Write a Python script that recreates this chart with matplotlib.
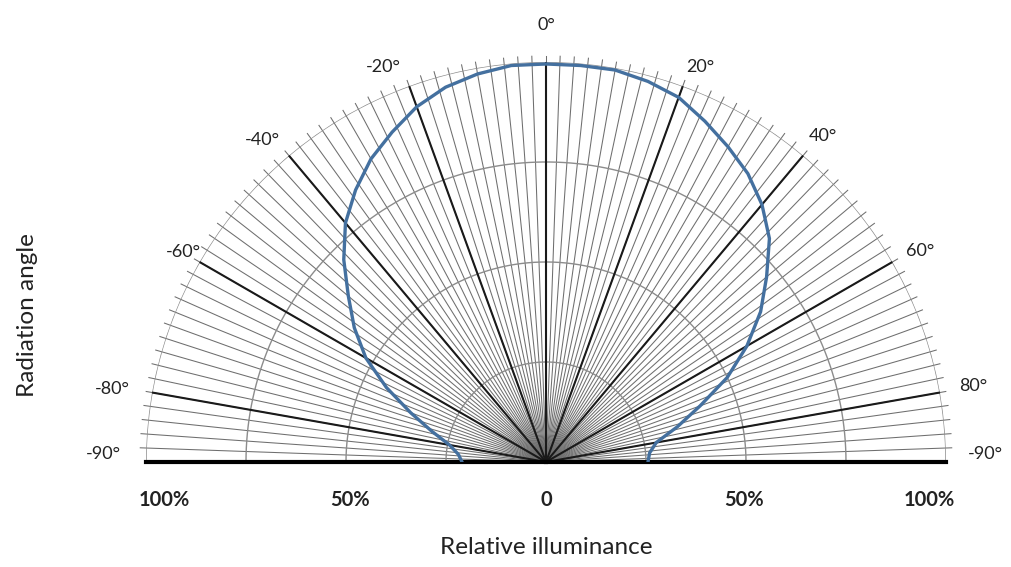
import matplotlib
matplotlib.use("Agg")
import matplotlib.pyplot as plt
import numpy as np

# radiation pattern, angle in degrees, relative illuminance in %
angles = [-90, -85, -80, -75, -70, -65, -60, -55, -50, -45, -40, -35, -30, -25, -20, -15, -10, -5,
          0, 5, 10, 15, 20, 25, 30, 35, 40, 45, 50, 55, 60, 65, 70, 75, 80, 85, 90]
illum = [21, 22, 24.5, 29.5, 36, 44, 52, 58.5, 64.5, 71.5, 78, 83, 87.5, 91, 94.5, 97, 98.5, 99.5,
         99.5, 99.5, 99.5, 98.5, 97, 94, 91, 88, 84, 79, 72, 65.5, 58, 50, 41, 34, 28, 26, 25.5]

angle_ticks = [-80, -60, -40, -20, 0, 20, 40, 60, 80]
angle_labels = ["-90°", "-80°", "-60°", "-40°", "-20°", "0°", "20°", "40°", "60°", "80°", "-90°"]
ring_values = [25, 50, 75, 100]
bottom_labels = ["100%", "50%", "0", "50%", "100%"]

# where the labels sit (polar angle, radius)
label_theta = [-89, -80.5, -59.9, -41.4, -22.4, 0, 21.3, 40.3, 60.6, 79.9, 89]
label_r = [110.7, 110, 104.8, 107.2, 106.8, 109.3, 106, 107, 107.5, 108.4, 109.8]
bottom_pos = [-95.5, -49, 0, 49.5, 95.8]

plt.rcParams['font.family'] = ['Lato', 'DejaVu Sans']

fig = plt.figure(figsize=(10.11, 5.67), dpi=100)
# square box, the half wedge sits in its middle
ax = fig.add_axes([0.1444, -0.1675, 0.7913, 1.4109], projection='polar')
ax.set_theta_zero_location('N')
ax.set_theta_direction(-1)
ax.set_thetamin(-90)
ax.set_thetamax(90)
ax.set_ylim(0, 100)
ax.grid(False)
ax.set_xticks([])
ax.set_yticks([])
for s in ax.spines.values():
    s.set_visible(False)

# thin radial lines every 2 degrees, with small ticks past the rim
for a in range(-88, 90, 2):
    t = np.radians(a)
    ax.plot([t, t], [0, 101.5], color='#6e6e6e', lw=0.75, clip_on=False, zorder=1)

# rings
tt = np.radians(np.linspace(-90, 90, 400))
for rv in ring_values:
    ax.plot(tt, np.full_like(tt, rv), color='#8c8c8c', lw=1.0, zorder=1)

# thick lines every 20 degrees
for a in angle_ticks:
    t = np.radians(a)
    ax.plot([t, t], [0, 100], color='#1a1a1a', lw=1.5, zorder=2)

# baseline
for a in [-90, 90]:
    t = np.radians(a)
    ax.plot([t, t], [0, 100], color='black', lw=3, clip_on=False, zorder=2)

ax.plot(np.radians(angles), illum, color='#44709f', lw=2.4, zorder=3)

# angle labels
for lab, a, r in zip(angle_labels, label_theta, label_r):
    ax.text(np.radians(a), r, lab, fontsize=13, ha='center', va='center', color='#222222')

for lab, p in zip(bottom_labels, bottom_pos):
    ax.annotate(lab, xy=(np.radians(90 if p >= 0 else -90), abs(p)), xytext=(0, -38),
                textcoords='offset pixels', ha='center', va='center',
                fontsize=14.5, fontweight='bold', color='#222222')

fig.text(0.54, 0.034, "Relative illuminance", ha='center', va='center', fontsize=17.5, color='#222222')
fig.text(0.027, 0.445, "Radiation angle", ha='center', va='center', rotation=90,
         fontsize=17.5, color='#222222')

fig.savefig("out.png", dpi=100)
